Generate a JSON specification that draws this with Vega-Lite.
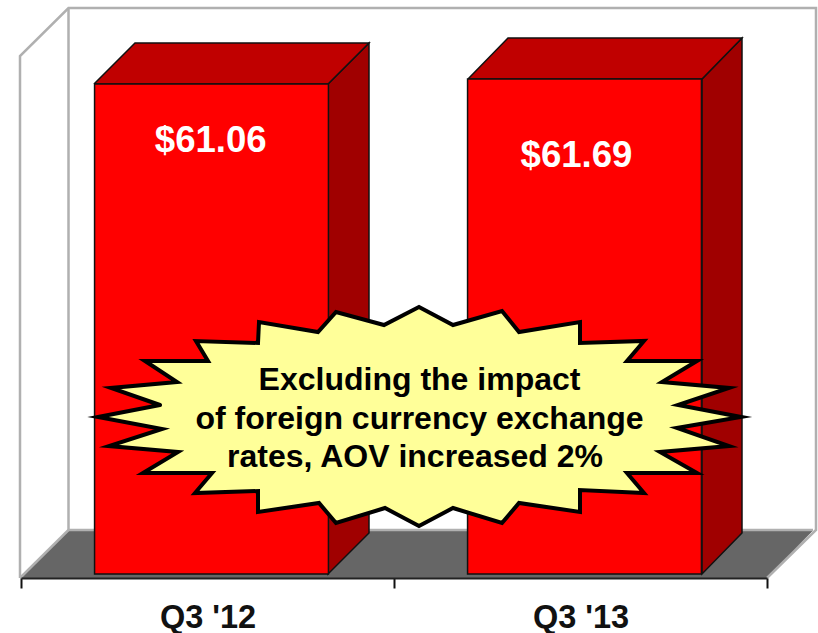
{
"$schema":"https://vega.github.io/schema/vega-lite/v6.json",
"width":818,"height":578,"padding":{"left":0,"top":0,"right":0,"bottom":55},"autosize":{"type":"none"},
"background":"white","view":{"stroke":null},
"config":{"font":"Liberation Sans"},
"datasets":{
"bars":[{"quarter":"Q3 '12","aov":61.06},{"quarter":"Q3 '13","aov":61.69}],
"floor":[{"k":1,"px":21,"py":578},{"k":2,"px":68,"py":530},{"k":3,"px":813,"py":530},{"k":4,"px":767,"py":578},{"k":5,"px":21,"py":578}],
"frame":[
{"g":"outer","k":1,"px":20,"py":578},{"g":"outer","k":2,"px":20,"py":56},{"g":"outer","k":3,"px":68.5,"py":8},{"g":"outer","k":4,"px":816,"py":8},{"g":"outer","k":5,"px":816,"py":530},{"g":"outer","k":6,"px":767,"py":578},
{"g":"inner","k":1,"px":68.5,"py":8},{"g":"inner","k":2,"px":68.5,"py":530},{"g":"inner","k":3,"px":813,"py":530},
{"g":"edge","k":1,"px":20,"py":578},{"g":"edge","k":2,"px":68.5,"py":530}],
"sides":[
{"g":"a","k":1,"px":328,"py":84},{"g":"a","k":2,"px":369,"py":43},{"g":"a","k":3,"px":369,"py":533},{"g":"a","k":4,"px":328,"py":574},{"g":"a","k":5,"px":328,"py":84},
{"g":"b","k":1,"px":702,"py":79},{"g":"b","k":2,"px":742,"py":38},{"g":"b","k":3,"px":742,"py":533},{"g":"b","k":4,"px":702,"py":574},{"g":"b","k":5,"px":702,"py":79}],
"tops":[
{"g":"a","k":1,"px":94,"py":84},{"g":"a","k":2,"px":135,"py":43},{"g":"a","k":3,"px":369,"py":43},{"g":"a","k":4,"px":328,"py":84},{"g":"a","k":5,"px":94,"py":84},
{"g":"b","k":1,"px":468,"py":79},{"g":"b","k":2,"px":508,"py":38},{"g":"b","k":3,"px":742,"py":38},{"g":"b","k":4,"px":702,"py":79},{"g":"b","k":5,"px":468,"py":79}],
"star":[
{"k":1,"px":160,"py":405},{"k":2,"px":111,"py":388},{"k":3,"px":177,"py":382},{"k":4,"px":145,"py":361},{"k":5,"px":208,"py":361},{"k":6,"px":196,"py":341},{"k":7,"px":258,"py":343},{"k":8,"px":259,"py":322},{"k":9,"px":318,"py":332},{"k":10,"px":336,"py":312},{"k":11,"px":384,"py":325},{"k":12,"px":419,"py":307},{"k":13,"px":453,"py":325},{"k":14,"px":502,"py":311},{"k":15,"px":519,"py":332},{"k":16,"px":580,"py":322},{"k":17,"px":580,"py":343},{"k":18,"px":644,"py":341},{"k":19,"px":627,"py":361},{"k":20,"px":697,"py":361},{"k":21,"px":662,"py":382},{"k":22,"px":729,"py":388},{"k":23,"px":678,"py":405},{"k":24,"px":741,"py":417},{"k":25,"px":677,"py":428},{"k":26,"px":729,"py":446},{"k":27,"px":660,"py":452},{"k":28,"px":697,"py":473},{"k":29,"px":627,"py":473},{"k":30,"px":644,"py":493},{"k":31,"px":580,"py":490},{"k":32,"px":580,"py":512},{"k":33,"px":519,"py":503},{"k":34,"px":502,"py":523},{"k":35,"px":453,"py":508},{"k":36,"px":419,"py":526},{"k":37,"px":385,"py":508},{"k":38,"px":336,"py":523},{"k":39,"px":319,"py":503},{"k":40,"px":258,"py":512},{"k":41,"px":258,"py":491},{"k":42,"px":195,"py":493},{"k":43,"px":212,"py":473},{"k":44,"px":143,"py":473},{"k":45,"px":178,"py":452},{"k":46,"px":109,"py":446},{"k":47,"px":162,"py":429},{"k":48,"px":98,"py":417},{"k":49,"px":160,"py":405}],
"note":[{"label":"Excluding the impact","px":419.5,"py":390},{"label":"of foreign currency exchange","px":419.5,"py":428.5},{"label":"rates, AOV increased 2%","px":415,"py":467}]
},
"resolve":{"scale":{"x":"independent","y":"independent"}},
"layer":[
{"data":{"name":"floor"},"mark":{"type":"line","fill":"#666666","stroke":"#666666","strokeWidth":1},
 "encoding":{"x":{"field":"px","type":"quantitative","scale":{"domain":[0,818]},"axis":null},"y":{"field":"py","type":"quantitative","scale":{"domain":[0,578],"reverse":true},"axis":null},"order":{"field":"k"}}},
{"data":{"name":"frame"},"mark":{"type":"line","stroke":"#b0b0b0","strokeWidth":2.5},
 "encoding":{"x":{"field":"px","type":"quantitative","scale":{"domain":[0,818]},"axis":null},"y":{"field":"py","type":"quantitative","scale":{"domain":[0,578],"reverse":true},"axis":null},"detail":{"field":"g"},"order":{"field":"k"}}},
{"data":{"name":"sides"},"mark":{"type":"line","fill":"#a00000","stroke":"#111111","strokeWidth":1.5},
 "encoding":{"x":{"field":"px","type":"quantitative","scale":{"domain":[0,818]},"axis":null},"y":{"field":"py","type":"quantitative","scale":{"domain":[0,578],"reverse":true},"axis":null},"detail":{"field":"g"},"order":{"field":"k"}}},
{"data":{"name":"tops"},"mark":{"type":"line","fill":"#c00000","stroke":"#111111","strokeWidth":1.5},
 "encoding":{"x":{"field":"px","type":"quantitative","scale":{"domain":[0,818]},"axis":null},"y":{"field":"py","type":"quantitative","scale":{"domain":[0,578],"reverse":true},"axis":null},"detail":{"field":"g"},"order":{"field":"k"}}},
{"data":{"name":"bars"},"mark":{"type":"bar","fill":"#ff0000","stroke":"#111111","strokeWidth":1.5,"xOffset":4,"width":{"band":0.627}},
 "encoding":{
  "x":{"field":"quarter","type":"nominal","sort":null,"scale":{"domain":["Q3 '12","Q3 '13"],"range":[21,767],"paddingInner":0,"paddingOuter":0},
   "axis":{"title":null,"orient":"bottom","labelAngle":0,"tickBand":"extent","tickSize":10,"tickWidth":2,"tickColor":"#111111","domainColor":"#222222","domainWidth":2,"labelFont":"Liberation Sans","labelFontWeight":"bold","labelFontSize":32.5,"labelColor":"#111111","labelBaseline":"alphabetic","labelPadding":39,"zindex":1}},
  "y":{"field":"aov","type":"quantitative","scale":{"domain":[0,71.53],"range":[574,0]},"axis":null}}},
{"data":{"name":"bars"},"transform":[{"filter":"datum.quarter === \"Q3 '12\""}],"mark":{"type":"text","font":"Liberation Sans","fontWeight":"bold","fontSize":36.6,"fill":"white","align":"center","baseline":"alphabetic","dx":3.25,"dy":68},
 "encoding":{"x":{"field":"quarter","type":"nominal","scale":{"domain":["Q3 '12","Q3 '13"],"range":[21,767]},"axis":null},"y":{"field":"aov","type":"quantitative","scale":{"domain":[0,71.53],"range":[574,0]},"axis":null},"text":{"field":"aov","type":"quantitative","format":"$.2f"}}},
{"data":{"name":"bars"},"transform":[{"filter":"datum.quarter === \"Q3 '13\""}],"mark":{"type":"text","font":"Liberation Sans","fontWeight":"bold","fontSize":36.6,"fill":"white","align":"center","baseline":"alphabetic","dx":-4,"dy":88},
 "encoding":{"x":{"field":"quarter","type":"nominal","scale":{"domain":["Q3 '12","Q3 '13"],"range":[21,767]},"axis":null},"y":{"field":"aov","type":"quantitative","scale":{"domain":[0,71.53],"range":[574,0]},"axis":null},"text":{"field":"aov","type":"quantitative","format":"$.2f"}}},
{"data":{"name":"star"},"mark":{"type":"line","fill":"#ffff99","stroke":"#000000","strokeWidth":4,"strokeJoin":"miter","strokeMiterLimit":10,"strokeCap":"round"},
 "encoding":{"x":{"field":"px","type":"quantitative","scale":{"domain":[0,818]},"axis":null},"y":{"field":"py","type":"quantitative","scale":{"domain":[0,578],"reverse":true},"axis":null},"order":{"field":"k"}}},
{"data":{"name":"note"},"mark":{"type":"text","font":"Liberation Sans","fontWeight":"bold","fontSize":32,"fill":"#000000","align":"center","baseline":"alphabetic"},
 "encoding":{"x":{"field":"px","type":"quantitative","scale":{"domain":[0,818]},"axis":null},"y":{"field":"py","type":"quantitative","scale":{"domain":[0,578],"reverse":true},"axis":null},"text":{"field":"label","type":"nominal"}}}
]
}
